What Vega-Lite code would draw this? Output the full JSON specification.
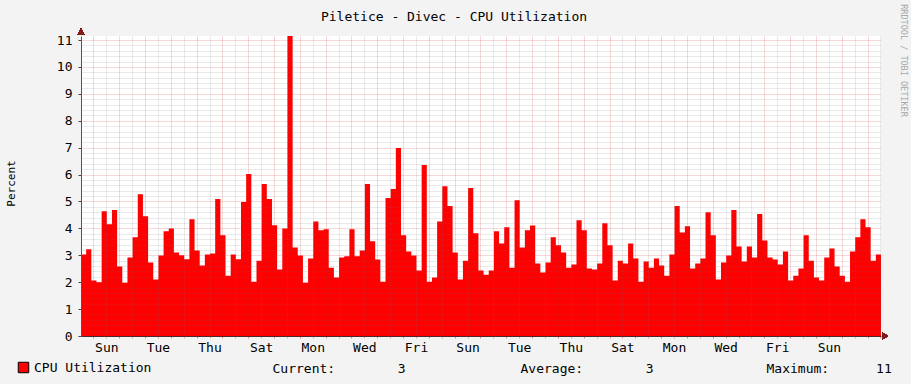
{
  "$schema": "https://vega.github.io/schema/vega-lite/v6.json",
  "width": 800,
  "height": 300,
  "autosize": {"type": "none"},
  "padding": {"left": 81, "top": 36, "right": 30, "bottom": 48},
  "background": "#F3F3F3",
  "config": {"view": {"fill": "#FFFFFF", "stroke": null}, "font": "DejaVu Sans Mono"},
  "title": {"text": "Piletice - Divec - CPU Utilization", "frame": "group", "font": "DejaVu Sans Mono", "fontSize": 13, "fontWeight": "normal", "color": "#000000", "anchor": "middle", "dx": -27, "offset": -30, "baseline": "alphabetic"},
  "data": {"values": [
    {"i":0,"v":3.03},{"i":1,"v":3.22},{"i":2,"v":2.06},{"i":3,"v":2.0},{"i":4,"v":4.64},{"i":5,"v":4.15},{"i":6,"v":4.68},{"i":7,"v":2.58},{"i":8,"v":1.98},{"i":9,"v":2.92},
    {"i":10,"v":3.67},{"i":11,"v":5.27},{"i":12,"v":4.45},{"i":13,"v":2.73},{"i":14,"v":2.1},{"i":15,"v":2.99},{"i":16,"v":3.89},{"i":17,"v":4.0},{"i":18,"v":3.1},{"i":19,"v":3.0},
    {"i":20,"v":2.85},{"i":21,"v":4.34},{"i":22,"v":3.18},{"i":23,"v":2.62},{"i":24,"v":3.03},{"i":25,"v":3.07},{"i":26,"v":5.09},{"i":27,"v":3.74},{"i":28,"v":2.24},{"i":29,"v":3.03},
    {"i":30,"v":2.85},{"i":31,"v":4.98},{"i":32,"v":6.02},{"i":33,"v":2.02},{"i":34,"v":2.8},{"i":35,"v":5.65},{"i":36,"v":5.09},{"i":37,"v":4.12},{"i":38,"v":2.47},{"i":39,"v":4.0},
    {"i":40,"v":11.15},{"i":41,"v":3.29},{"i":42,"v":2.99},{"i":43,"v":1.98},{"i":44,"v":2.88},{"i":45,"v":4.26},{"i":46,"v":3.93},{"i":47,"v":3.97},{"i":48,"v":2.54},{"i":49,"v":2.17},
    {"i":50,"v":2.92},{"i":51,"v":2.96},{"i":52,"v":3.97},{"i":53,"v":2.96},{"i":54,"v":3.18},{"i":55,"v":5.65},{"i":56,"v":3.52},{"i":57,"v":2.84},{"i":58,"v":2.02},{"i":59,"v":5.13},
    {"i":60,"v":5.46},{"i":61,"v":6.99},{"i":62,"v":3.74},{"i":63,"v":3.14},{"i":64,"v":2.99},{"i":65,"v":2.43},{"i":66,"v":6.36},{"i":67,"v":2.02},{"i":68,"v":2.17},{"i":69,"v":4.26},
    {"i":70,"v":5.57},{"i":71,"v":4.83},{"i":72,"v":3.1},{"i":73,"v":2.1},{"i":74,"v":2.8},{"i":75,"v":5.5},{"i":76,"v":3.82},{"i":77,"v":2.43},{"i":78,"v":2.28},{"i":79,"v":2.43},
    {"i":80,"v":3.89},{"i":81,"v":3.44},{"i":82,"v":4.04},{"i":83,"v":2.54},{"i":84,"v":5.05},{"i":85,"v":3.29},{"i":86,"v":3.93},{"i":87,"v":4.11},{"i":88,"v":2.69},{"i":89,"v":2.36},
    {"i":90,"v":2.73},{"i":91,"v":3.67},{"i":92,"v":3.37},{"i":93,"v":3.1},{"i":94,"v":2.54},{"i":95,"v":2.66},{"i":96,"v":4.3},{"i":97,"v":3.93},{"i":98,"v":2.51},{"i":99,"v":2.47},
    {"i":100,"v":2.69},{"i":101,"v":4.19},{"i":102,"v":3.37},{"i":103,"v":2.06},{"i":104,"v":2.8},{"i":105,"v":2.69},{"i":106,"v":3.44},{"i":107,"v":2.88},{"i":108,"v":2.02},{"i":109,"v":2.77},
    {"i":110,"v":2.54},{"i":111,"v":2.88},{"i":112,"v":2.62},{"i":113,"v":2.24},{"i":114,"v":3.03},{"i":115,"v":4.83},{"i":116,"v":3.85},{"i":117,"v":4.08},{"i":118,"v":2.51},{"i":119,"v":2.69},
    {"i":120,"v":2.88},{"i":121,"v":4.6},{"i":122,"v":3.74},{"i":123,"v":2.1},{"i":124,"v":2.73},{"i":125,"v":2.99},{"i":126,"v":4.68},{"i":127,"v":3.33},{"i":128,"v":2.77},{"i":129,"v":3.33},
    {"i":130,"v":2.92},{"i":131,"v":4.53},{"i":132,"v":3.55},{"i":133,"v":2.92},{"i":134,"v":2.84},{"i":135,"v":2.66},{"i":136,"v":3.14},{"i":137,"v":2.06},{"i":138,"v":2.24},{"i":139,"v":2.51},
    {"i":140,"v":3.74},{"i":141,"v":2.8},{"i":142,"v":2.17},{"i":143,"v":2.06},{"i":144,"v":2.92},{"i":145,"v":3.25},{"i":146,"v":2.58},{"i":147,"v":2.24},{"i":148,"v":2.02},{"i":149,"v":3.14},
    {"i":150,"v":3.67},{"i":151,"v":4.34},{"i":152,"v":4.04},{"i":153,"v":2.8},{"i":154,"v":3.03},{"i":155,"v":3.03}
  ]},
  "layer": [
    {
      "mark": {"type": "area", "interpolate": "step-after", "clip": true},
      "encoding": {
        "x": {"field": "i", "type": "quantitative",
          "scale": {"domain": [0, 155], "nice": false, "zero": false},
          "axis": {"orient": "bottom", "zindex": 1,
            "values": [4.9,9.9,14.9,19.9,24.9,29.9,34.9,39.9,44.9,49.9,54.9,59.9,64.9,69.9,74.9,79.9,84.9,89.9,94.9,99.9,104.9,109.9,114.9,119.9,124.9,129.9,134.9,139.9,144.9,149.9,154.9],
            "grid": true, "gridColor": "#666666", "gridOpacity": 0.28, "gridDash": [1, 1],
            "ticks": true, "tickSize": 2, "tickColor": "#D02020", "tickOpacity": 0.35, "domain": false,
            "labelExpr": "(round((datum.value - 4.9) / 5) % 2 == 0 && round((datum.value - 4.9) / 5) < 30) ? ['Sun','Mon','Tue','Wed','Thu','Fri','Sat'][round((datum.value - 4.9) / 5) % 7] : ''",
            "labelFont": "DejaVu Sans Mono", "labelFontSize": 13, "labelColor": "#000000", "labelPadding": 3,
            "labelOverlap": false, "labelFlush": false, "labelBound": false,
            "title": "Current:\u00a0\u00a0\u00a0\u00a0\u00a0\u00a0\u00a0\u00a03",
            "titleX": 191, "titleY": 32, "titleAlign": "left", "titleBaseline": "middle", "titleAnchor": null,
            "titleFont": "DejaVu Sans Mono", "titleFontSize": 13, "titleFontWeight": "normal", "titleColor": "#000000"}},
        "y": {"field": "v", "type": "quantitative",
          "scale": {"domain": [0, 11.15], "nice": false, "zero": true},
          "axis": {"orient": "left", "zindex": 1,
            "values": [0.2,0.4,0.6,0.8,1.2,1.4,1.6,1.8,2.2,2.4,2.6,2.8,3.2,3.4,3.6,3.8,4.2,4.4,4.6,4.8,5.2,5.4,5.6,5.8,6.2,6.4,6.6,6.8,7.2,7.4,7.6,7.8,8.2,8.4,8.6,8.8,9.2,9.4,9.6,9.8,10.2,10.4,10.6,10.8],
            "grid": true, "gridColor": "#666666", "gridOpacity": 0.28, "gridDash": [1, 1],
            "labels": false, "ticks": false, "domain": false,
            "title": "Percent", "titleX": -70, "titleY": 147, "titleAngle": -90, "titleAlign": "center", "titleBaseline": "middle",
            "titleFont": "DejaVu Sans Mono", "titleFontSize": 11, "titleFontWeight": "normal", "titleColor": "#000000"}},
        "color": {"datum": "CPU Utilization", "type": "nominal",
          "scale": {"range": ["#FF0000"]},
          "legend": {"orient": "none", "legendX": -64, "legendY": 325, "title": null, "padding": 0,
            "symbolType": "square", "symbolSize": 110, "symbolFillColor": "#FF0000", "symbolStrokeColor": "#000000", "symbolStrokeWidth": 1, "symbolOpacity": 1,
            "labelFont": "DejaVu Sans Mono", "labelFontSize": 13, "labelColor": "#000000", "labelOffset": 4, "labelLimit": 300}}
      }
    },
    {
      "mark": {"type": "point", "shape": "triangle-right", "filled": true, "color": "#7F1F1F", "opacity": 1, "size": 40, "clip": false},
      "encoding": {
        "x": {"datum": 155.8, "type": "quantitative",
          "axis": {"orient": "bottom", "zindex": 1,
            "values": [2.4,7.4,12.4,17.4,22.4,27.4,32.4,37.4,42.4,47.4,52.4,57.4,62.4,67.4,72.4,77.4,82.4,87.4,92.4,97.4,102.4,107.4,112.4,117.4,122.4,127.4,132.4,137.4,142.4,147.4,152.4],
            "grid": true, "gridColor": "#D02020", "gridOpacity": 0.35, "gridDash": [1, 1],
            "ticks": true, "tickSize": 2, "tickColor": "#D02020", "tickOpacity": 0.5, "labels": false,
            "domain": true, "domainColor": "#4A2A2A", "domainWidth": 1,
            "title": "Average:\u00a0\u00a0\u00a0\u00a0\u00a0\u00a0\u00a0\u00a03",
            "titleX": 439, "titleY": 32, "titleAlign": "left", "titleBaseline": "middle", "titleAnchor": null,
            "titleFont": "DejaVu Sans Mono", "titleFontSize": 13, "titleFontWeight": "normal", "titleColor": "#000000"}},
        "y": {"datum": 0, "type": "quantitative",
          "axis": {"orient": "left", "zindex": 1,
            "values": [0,1,2,3,4,5,6,7,8,9,10,11],
            "grid": true, "gridColor": "#D02020", "gridOpacity": 0.35, "gridDash": [1, 1],
            "ticks": true, "tickSize": 3, "tickColor": "#444444",
            "domain": true, "domainColor": "#555555", "domainWidth": 1,
            "labelFont": "DejaVu Sans Mono", "labelFontSize": 13, "labelColor": "#000000", "labelPadding": 6,
            "labelFlush": false, "labelBound": false, "labelOverlap": false,
            "title": null}}
      }
    },
    {
      "mark": {"type": "point", "shape": "triangle-up", "filled": true, "color": "#7F1F1F", "opacity": 1, "size": 40, "clip": false},
      "encoding": {
        "x": {"datum": 0, "type": "quantitative",
          "axis": {"orient": "bottom", "grid": false, "ticks": false, "labels": false, "domain": false,
            "title": "Maximum:\u00a0\u00a0\u00a0\u00a0\u00a0\u00a011",
            "titleX": 685, "titleY": 32, "titleAlign": "left", "titleBaseline": "middle", "titleAnchor": null,
            "titleFont": "DejaVu Sans Mono", "titleFontSize": 13, "titleFontWeight": "normal", "titleColor": "#000000"}},
        "y": {"datum": 11.32, "type": "quantitative",
          "axis": {"orient": "right", "grid": false, "ticks": false, "labels": false, "domain": false,
            "title": "RRDTOOL / TOBI OETIKER", "titleAngle": 90, "titleX": 22, "titleY": 24, "titleAlign": "center", "titleBaseline": "middle",
            "titleFont": "DejaVu Sans Mono", "titleFontSize": 8.5, "titleFontWeight": "normal", "titleColor": "#A8A8A8"}}
      }
    }
  ],
  "resolve": {"axis": {"x": "independent", "y": "independent"}}
}
